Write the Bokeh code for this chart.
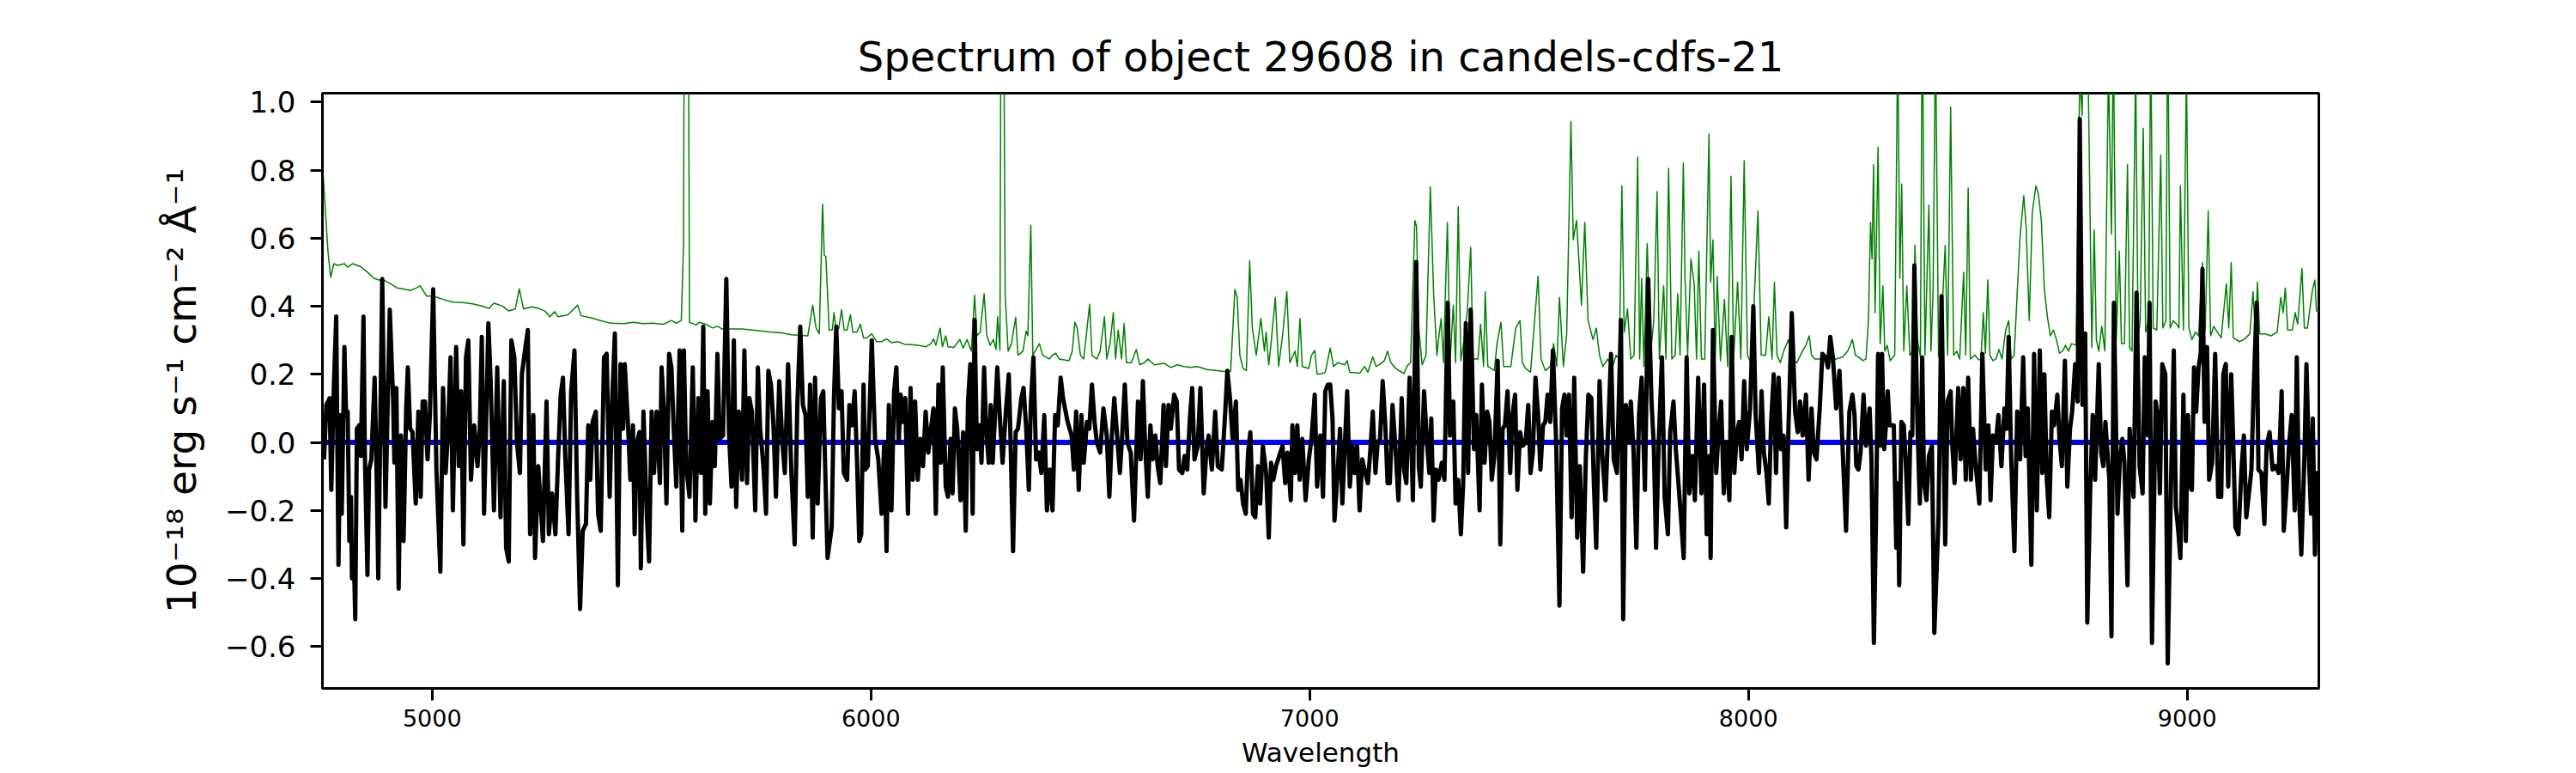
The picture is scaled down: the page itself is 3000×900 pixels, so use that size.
from bokeh.plotting import figure
from bokeh.models import Range1d, FixedTicker, Span
from bokeh.embed import file_html
from bokeh.resources import INLINE

title_text = "Spectrum of object 29608 in candels-cdfs-21"
x_label = "Wavelength"
y_label = "10⁻¹⁸ erg s⁻¹ cm⁻² Å⁻¹"
x_ticks = [5000, 6000, 7000, 8000, 9000]
x_tick_labels = ["5000", "6000", "7000", "8000", "9000"]
y_ticks = [-0.6, -0.4, -0.2, 0.0, 0.2, 0.4, 0.6, 0.8, 1.0]
y_tick_labels = ["−0.6", "−0.4", "−0.2", "0.0", "0.2", "0.4", "0.6", "0.8", "1.0"]
x_limits = (4750, 9300)
y_limits = (-0.723, 1.026)
zero_level = 0.0

# ---- object spectrum (black), in four wavelength segments ----
wl_spec_1 = [
    4753.7, 4759.0, 4766.4, 4770.2, 4776.2, 4781.4, 4786.6, 4791.1, 4794.1, 4800.1,
    4803.9, 4807.6, 4811.4, 4815.1, 4817.3, 4821.1, 4824.8, 4828.6, 4833.8, 4837.6,
    4843.6, 4846.6, 4852.6, 4856.3, 4861.5, 4869.0, 4873.5, 4877.3, 4886.3, 4893.7,
    4903.5, 4911.0, 4914.0, 4918.5, 4923.7, 4929.0, 4935.0, 4940.9, 4944.7, 4949.9,
    4955.2, 4962.7, 4968.6, 4973.9, 4978.4, 4983.6, 4989.6, 4994.9, 5002.4, 5009.8,
    5018.8, 5024.8, 5030.8, 5036.1, 5042.0, 5047.3, 5054.8, 5060.8, 5066.0, 5071.3,
    5077.2, 5082.5, 5088.5, 5096.0, 5103.5, 5108.7, 5113.2, 5118.4, 5128.2, 5133.4,
    5140.9, 5148.4, 5155.9, 5163.4, 5168.6, 5174.6, 5180.6, 5187.4, 5193.3, 5200.1,
    5204.6, 5210.6, 5218.1, 5223.3, 5230.8, 5234.5, 5242.0, 5252.5, 5260.8, 5266.0,
    5273.5, 5281.0, 5287.0, 5293.0, 5298.2, 5303.4, 5311.0, 5316.9, 5324.4, 5330.4,
    5337.2, 5343.2, 5350.6, 5355.9, 5360.4, 5365.6, 5373.1, 5378.3, 5384.3, 5391.8,
    5397.8, 5404.6, 5410.6, 5416.5, 5423.3, 5429.3, 5435.3, 5439.0, 5446.5, 5451.8,
    5457.7, 5461.5, 5466.7, 5472.7, 5475.7, 5481.7, 5489.2, 5494.4, 5500.4, 5505.7,
    5511.7, 5519.2, 5522.9, 5528.1, 5534.1, 5540.1, 5545.4, 5550.6, 5556.6, 5564.1,
    5570.1, 5573.8, 5579.1, 5586.6, 5594.1, 5600.1, 5606.8, 5612.8, 5618.0, 5622.5,
    5627.8, 5633.0, 5639.0, 5644.3, 5650.2, 5655.5, 5663.0, 5670.5, 5676.5, 5682.4,
    5687.7, 5692.9, 5698.9, 5706.4, 5711.7, 5717.7, 5722.9, 5728.9, 5736.4, 5742.4,
    5747.6, 5755.1, 5761.1, 5766.3, 5772.3, 5777.6, 5783.6, 5791.1, 5797.8, 5803.8,
    5811.3, 5818.8, 5826.3, 5832.3, 5839.0, 5845.0, 5851.0, 5856.2, 5861.4, 5867.4,
    5872.7, 5878.7, 5886.2, 5891.4, 5901.2,
]
flux_spec_1 = [
    -0.05, 0.11, 0.13, -0.14, 0.17, 0.37, -0.36, 0.08, -0.21, 0.28,
    0.08, 0.09, -0.29, -0.16, -0.40, -0.30, -0.52, 0.04, 0.05, -0.04,
    0.37, -0.03, -0.39, -0.08, -0.05, 0.19, -0.09, -0.40, 0.48, -0.19,
    0.39, 0.13, -0.06, 0.16, -0.43, 0.02, -0.29, 0.10, 0.22, 0.04,
    0.03, -0.18, 0.09, -0.16, 0.12, 0.12, -0.05, 0.08, 0.45, -0.08,
    -0.38, 0.16, -0.09, 0.03, 0.25, -0.20, 0.28, -0.07, 0.15, -0.30,
    0.25, 0.30, -0.11, 0.05, -0.07, 0.04, 0.31, -0.21, 0.35, 0.18,
    -0.20, 0.22, -0.22, 0.18, -0.31, -0.35, 0.30, 0.25, 0.00, -0.09,
    0.20, 0.26, 0.33, -0.27, 0.08, -0.34, -0.07, -0.29, 0.12, -0.27,
    -0.15, -0.27, -0.05, 0.14, 0.19, -0.04, -0.27, 0.15, 0.27, -0.15,
    -0.49, -0.26, -0.24, 0.05, -0.11, 0.06, 0.09, -0.21, -0.26, 0.25,
    0.26, -0.16, 0.13, 0.32, -0.42, 0.23, 0.04, 0.23, 0.05, -0.11,
    0.05, -0.27, 0.00, 0.03, -0.37, 0.09, -0.21, -0.35, 0.09, -0.09,
    0.09, -0.12, 0.22, 0.10, -0.18, 0.26, 0.22, 0.04, -0.13, 0.27,
    -0.26, 0.27, -0.07, -0.16, 0.22, -0.23, 0.13, -0.09, 0.34, -0.21,
    0.15, -0.18, 0.06, -0.07, 0.26, 0.01, 0.02, 0.48, 0.03, -0.13,
    0.30, -0.19, 0.09, -0.11, 0.27, -0.12, 0.13, 0.09, -0.20, 0.22,
    0.04, -0.07, -0.21, 0.21, 0.17, 0.06, -0.16, 0.18, 0.01, -0.09,
    0.23, -0.09, -0.30, 0.11, 0.34, 0.11, 0.08, -0.16, 0.17, -0.28,
    0.19, -0.18, 0.13, 0.15, -0.34,
]
wl_spec_2 = [
    5910.6, 5915.8, 5921.1, 5927.1, 5933.1, 5938.3, 5945.8, 5951.0, 5957.0, 5963.0,
    5968.3, 5973.5, 5978.0, 5983.2, 5987.0, 5993.0, 6002.0, 6009.5, 6016.9, 6024.4,
    6030.4, 6035.7, 6040.9, 6046.9, 6052.9, 6058.1, 6063.4, 6067.9, 6073.1, 6078.4,
    6084.4, 6090.4, 6095.6, 6100.8, 6106.8, 6112.8, 6118.8, 6124.8, 6130.8, 6136.8,
    6142.8, 6148.0, 6154.0, 6159.3, 6163.8, 6170.5, 6175.7, 6181.7, 6186.2, 6191.5,
    6196.7, 6204.2, 6210.2, 6216.2, 6221.4, 6226.7, 6231.9, 6236.4, 6241.7, 6247.6,
    6252.1, 6258.1, 6262.6, 6268.6, 6273.1, 6277.6, 6282.9, 6288.1, 6294.1, 6300.1,
    6307.6, 6314.3, 6318.0, 6324.0, 6330.0, 6335.3, 6342.8, 6348.0, 6354.0, 6360.0,
    6364.5, 6370.5, 6376.5, 6382.5, 6388.5, 6395.2, 6401.2, 6407.9, 6413.9, 6419.9,
    6425.9, 6432.6, 6437.9, 6442.4, 6448.4, 6457.4, 6462.6, 6467.8, 6473.8, 6479.8,
    6485.1, 6492.6, 6497.8, 6503.8, 6509.8, 6515.0, 6522.5, 6530.0, 6537.5, 6543.5,
    6548.7, 6554.7, 6560.0, 6567.5, 6572.7, 6578.7, 6584.7, 6592.2, 6599.7, 6608.7,
    6614.7, 6619.9, 6625.1, 6631.1, 6637.1, 6642.4, 6648.4, 6653.6, 6659.6, 6667.1,
    6672.4, 6678.3, 6683.6, 6691.1, 6697.1, 6702.3, 6709.8, 6715.0, 6721.0, 6727.0,
    6732.3, 6737.5, 6745.0, 6751.0, 6758.5, 6764.5, 6769.7, 6777.2, 6784.7, 6790.7,
    6799.7, 6807.2, 6812.4, 6818.4, 6824.4, 6831.9, 6837.1, 6842.4, 6848.3, 6854.3,
    6859.6, 6864.8, 6870.8, 6876.1, 6882.0, 6887.3, 6893.3, 6900.8, 6906.8, 6912.0,
    6917.2, 6923.2, 6930.7, 6938.2, 6944.2, 6949.5, 6957.0, 6960.7, 6966.7, 6971.9,
    6977.2, 6983.2, 6990.7, 6998.1, 7004.1, 7011.6, 7016.9, 7024.4, 7030.4, 7035.6,
    7041.6, 7046.8, 7052.1, 7056.6, 7064.1, 7069.3, 7074.5,
]
flux_spec_2 = [
    -0.25, 0.13, 0.34, 0.10, 0.15, -0.09, -0.11, 0.11, 0.05, 0.15,
    -0.05, -0.29, -0.27, 0.17, -0.08, -0.07, 0.30, 0.01, -0.05, -0.21,
    0.00, -0.32, 0.11, -0.20, 0.15, 0.22, 0.00, 0.14, 0.06, 0.13,
    -0.21, 0.16, -0.11, 0.12, -0.11, 0.01, -0.07, 0.09, -0.03, 0.04,
    0.10, -0.21, 0.17, -0.06, 0.22, -0.13, -0.16, 0.01, -0.15, 0.10,
    0.04, -0.17, 0.03, -0.26, 0.12, 0.23, -0.21, 0.36, -0.02, 0.05,
    -0.06, 0.22, 0.04, -0.06, 0.11, -0.06, 0.08, 0.22, 0.07, -0.06,
    0.09, 0.20, 0.02, -0.32, 0.03, 0.04, 0.13, 0.16, 0.04, -0.14,
    0.11, 0.25, -0.05, -0.03, -0.09, 0.08, -0.20, -0.08, -0.20, 0.08,
    0.05, 0.19, 0.13, 0.10, 0.06, 0.02, -0.08, 0.09, -0.14, 0.08,
    -0.06, 0.06, 0.04, 0.17, 0.06, 0.00, -0.03, 0.10, 0.02, -0.16,
    0.01, 0.13, 0.04, -0.09, 0.02, 0.17, 0.00, -0.03, -0.23, 0.12,
    -0.05, 0.18, -0.01, -0.16, 0.05, -0.05, 0.02, -0.07, -0.12, 0.11,
    -0.07, 0.11, 0.04, 0.14, 0.12, -0.08, -0.09, -0.04, -0.08, 0.07,
    0.16, -0.05, -0.01, 0.16, -0.15, -0.03, 0.02, -0.08, 0.09, -0.07,
    -0.08, 0.08, 0.21, 0.13, 0.01, 0.12, -0.14, -0.11, -0.18, -0.21,
    -0.03, 0.03, -0.21, -0.22, -0.07, -0.18, -0.01, -0.09, -0.28, -0.06,
    -0.11, -0.07, -0.04, -0.01, -0.12, -0.03, -0.17, 0.05, -0.09, 0.05,
    -0.11, 0.01, -0.17, -0.05, 0.01, 0.14, -0.13, 0.02, -0.16, 0.15,
    0.17, 0.17, 0.07, -0.23, -0.08, 0.04, -0.18,
]
wl_spec_3 = [
    7080.2, 7085.5, 7091.5, 7097.5, 7102.7, 7108.0, 7113.9, 7119.9, 7125.2, 7132.7,
    7137.9, 7143.9, 7149.9, 7155.1, 7160.4, 7166.4, 7172.4, 7177.6, 7182.8, 7188.8,
    7194.8, 7202.3, 7209.8, 7215.1, 7220.3, 7227.8, 7235.3, 7242.8, 7248.8, 7253.3,
    7260.7, 7267.5, 7272.7, 7277.2, 7282.5, 7287.7, 7293.7, 7301.2, 7307.2, 7314.7,
    7319.9, 7327.4, 7332.6, 7338.6, 7344.6, 7349.9, 7355.9, 7361.1, 7367.1, 7374.6,
    7379.8, 7387.3, 7392.6, 7398.6, 7404.6, 7409.8, 7415.0, 7421.0, 7428.5, 7434.5,
    7439.8, 7445.0, 7451.0, 7457.0, 7462.2, 7468.2, 7473.5, 7479.5, 7485.4, 7492.2,
    7498.2, 7503.4, 7508.7, 7514.7, 7520.6, 7525.9, 7531.9, 7537.1, 7542.4, 7548.4,
    7554.4, 7561.8, 7569.3, 7575.3, 7580.6, 7585.8, 7591.1, 7597.0, 7603.0, 7609.8,
    7615.8, 7623.3, 7629.3, 7635.2, 7642.0, 7648.0, 7653.2, 7660.7, 7666.7, 7674.2,
    7679.4, 7686.9, 7692.9, 7700.4, 7709.4, 7714.6, 7720.6, 7726.6, 7731.9, 7737.9,
    7744.6, 7750.6, 7756.6, 7764.1, 7771.6, 7779.1, 7784.3, 7789.5, 7795.5, 7803.0,
    7809.0, 7816.5, 7821.7, 7829.2, 7834.5, 7840.5, 7845.7, 7852.5, 7859.2, 7865.2,
    7872.7, 7877.9, 7885.4, 7892.9, 7898.9, 7904.9, 7910.9, 7913.9, 7919.1, 7926.6,
    7931.8, 7937.8, 7943.8, 7949.1, 7956.6, 7961.8, 7967.8, 7973.8, 7979.0, 7984.3,
    7990.3, 7996.3, 8003.8, 8011.2, 8016.5, 8024.0, 8030.0, 8035.2, 8041.2, 8046.4,
    8051.7, 8057.7, 8062.9, 8068.9, 8074.2, 8080.2, 8086.1, 8091.4, 8098.9, 8106.4,
    8112.4, 8117.6, 8123.6, 8131.1, 8137.1, 8143.8, 8149.1, 8155.1, 8162.5, 8168.5,
    8176.0, 8181.3, 8186.5, 8192.5, 8200.0, 8207.5, 8215.0, 8222.5, 8230.0,
]
flux_spec_3 = [
    -0.01, 0.15, -0.13, -0.01, -0.09, -0.01, -0.20, -0.05, -0.08, -0.12,
    -0.03, 0.09, -0.09, 0.00, 0.01, 0.18, 0.05, -0.12, -0.12, 0.11,
    0.00, -0.17, 0.13, -0.08, -0.12, 0.19, -0.17, 0.53, -0.07, -0.13,
    0.15, 0.00, -0.09, 0.07, -0.23, -0.08, -0.11, -0.06, -0.11, 0.41,
    0.02, 0.12, -0.18, -0.11, -0.27, -0.12, 0.35, -0.09, 0.39, -0.02,
    0.08, -0.20, 0.17, -0.06, 0.09, 0.06, -0.11, -0.04, 0.24, -0.30,
    0.04, 0.05, 0.15, -0.09, 0.08, 0.14, -0.14, 0.03, -0.01, 0.00,
    0.11, -0.09, -0.03, 0.19, 0.08, -0.08, 0.05, 0.06, 0.14, 0.06,
    0.27, 0.00, -0.48, 0.10, 0.14, 0.02, 0.14, -0.22, 0.19, -0.28,
    -0.07, -0.38, -0.05, 0.14, 0.13, -0.13, -0.31, 0.18, -0.03, -0.17,
    0.01, 0.26, -0.05, -0.09, 0.36, -0.52, 0.11, 0.00, 0.12, -0.02,
    -0.31, 0.08, 0.19, -0.14, 0.48, 0.12, -0.01, -0.31, 0.00, 0.25,
    -0.16, -0.27, 0.03, 0.12, -0.02, -0.12, -0.21, -0.34, 0.25, -0.15,
    -0.04, -0.17, 0.19, -0.15, 0.17, -0.27, -0.04, -0.34, 0.33, -0.09,
    0.03, 0.12, -0.15, 0.00, -0.17, 0.31, -0.09, 0.03, 0.06, -0.05,
    0.18, -0.02, 0.10, 0.40, 0.08, -0.09, 0.15, -0.03, -0.09, -0.18,
    0.06, 0.20, -0.09, 0.19, -0.02, 0.02, -0.25, 0.05, 0.38, 0.09,
    0.03, 0.12, 0.02, 0.14, -0.11, 0.10, -0.03, -0.05, 0.10, 0.26,
    0.25, 0.22, 0.31, 0.25, 0.10, 0.21, -0.03, -0.26, 0.09,
]
wl_spec_4 = [
    8237.0, 8241.8, 8245.9, 8250.7, 8255.5, 8262.4, 8268.0, 8271.4, 8276.2, 8280.4,
    8285.9, 8290.7, 8295.5, 8300.3, 8304.5, 8309.3, 8314.1, 8317.6, 8321.7, 8326.5,
    8331.3, 8336.9, 8340.3, 8343.7, 8348.6, 8354.1, 8358.9, 8364.4, 8369.2, 8373.4,
    8378.2, 8385.1, 8390.6, 8396.1, 8400.2, 8405.8, 8411.3, 8418.2, 8423.7, 8433.3,
    8440.2, 8448.5, 8454.0, 8460.9, 8464.3, 8469.8, 8478.1, 8483.6, 8489.8, 8495.3,
    8500.8, 8507.0, 8511.9, 8517.4, 8526.3, 8533.2, 8540.8, 8547.0, 8551.8, 8557.3,
    8564.2, 8569.7, 8576.6, 8583.5, 8588.3, 8593.2, 8598.7, 8606.2, 8612.5, 8619.3,
    8626.2, 8631.7, 8636.6, 8644.8, 8651.0, 8657.2, 8664.1, 8669.6, 8674.5, 8680.0,
    8685.5, 8691.7, 8696.5, 8704.1, 8708.9, 8714.4, 8721.3, 8726.8, 8733.0, 8737.8,
    8744.7, 8750.3, 8755.1, 8761.3, 8767.5, 8772.3, 8779.2, 8784.7, 8790.2, 8798.5,
    8804.0, 8808.8, 8813.6, 8822.6, 8827.4, 8832.9, 8841.2, 8846.7, 8852.2, 8857.0,
    8863.9, 8868.8, 8877.7, 8884.6, 8891.5, 8898.4, 8903.2, 8910.1, 8914.2, 8919.7,
    8928.0, 8932.8, 8937.7, 8943.2, 8950.1, 8955.6, 8962.5, 8969.4, 8974.2, 8979.0,
    8984.5, 8991.4, 8996.9, 9001.7, 9006.6, 9010.7, 9015.5, 9020.4, 9025.9, 9030.7,
    9034.8, 9039.6, 9045.2, 9050.0, 9056.9, 9063.7, 9070.6, 9077.5, 9082.3, 9087.9,
    9093.4, 9100.3, 9105.1, 9109.9, 9116.8, 9123.7, 9129.2, 9134.7, 9141.6, 9146.4,
    9151.2, 9158.1, 9162.3, 9169.2, 9176.0, 9180.9, 9187.8, 9194.7, 9201.5, 9208.4,
    9215.3, 9220.1, 9225.7, 9232.6, 9238.1, 9245.0, 9249.8, 9254.6, 9260.1, 9267.0,
    9271.8, 9277.3, 9282.2, 9286.3, 9291.1, 9295.9, 9300.0,
]
flux_spec_4 = [
    0.14, 0.08, -0.07, -0.08, -0.03, 0.14, -0.01, 0.04, 0.10, -0.05,
    -0.59, -0.23, 0.26, -0.01, 0.26, -0.02, 0.06, 0.15, 0.05, 0.05,
    0.05, -0.31, -0.12, -0.42, 0.06, 0.05, -0.07, -0.24, 0.03, 0.02,
    0.52, 0.06, -0.18, 0.25, -0.12, -0.17, -0.04, -0.01, -0.56, -0.22,
    0.43, -0.30, 0.12, 0.15, 0.00, -0.12, 0.16, -0.05, 0.16, -0.11,
    0.19, -0.11, 0.04, -0.06, -0.18, 0.26, -0.08, 0.05, -0.17, 0.02,
    0.00, 0.08, -0.07, 0.10, 0.04, 0.31, -0.04, -0.32, 0.09, -0.05,
    0.25, -0.04, 0.10, -0.36, 0.26, -0.20, 0.27, -0.09, 0.20, -0.11,
    -0.22, 0.09, 0.05, 0.14, 0.01, -0.07, 0.24, -0.13, 0.04, 0.09,
    0.23, 0.12, 0.95, 0.11, 0.32, -0.53, -0.13, 0.08, -0.11, 0.23,
    -0.03, -0.07, 0.06, -0.11, -0.57, 0.41, -0.21, -0.05, 0.01, -0.06,
    -0.42, 0.04, -0.16, 0.44, -0.07, -0.15, 0.25, 0.02, 0.41, -0.59,
    0.12, 0.08, -0.15, 0.23, 0.20, -0.65, -0.16, 0.27, -0.19, -0.25,
    -0.34, 0.14, -0.29, 0.08, -0.13, -0.14, 0.22, 0.09, 0.22, 0.26,
    0.51, 0.06, 0.28, -0.11, -0.06, 0.26, -0.16, -0.16, 0.20, 0.23,
    -0.13, 0.20, -0.01, -0.25, -0.27, -0.08, 0.02, -0.22, -0.14, -0.08,
    0.14, 0.41, -0.08, -0.09, -0.24, -0.01, 0.03, -0.08, -0.07, -0.09,
    0.15, -0.26, -0.15, 0.00, 0.08, -0.20, 0.25, -0.15, -0.33, -0.05,
    0.23, -0.04, -0.21, 0.07, -0.33, -0.09, -0.10,
]

# ---- noise / sky spectrum (green), four segments ----
wl_sky_1 = [
    4751.0, 4762.7, 4768.7, 4776.2, 4785.1, 4800.1, 4807.6, 4818.8, 4837.6, 4852.6,
    4867.5, 4878.8, 4890.0, 4905.0, 4920.0, 4931.2, 4949.9, 4964.9, 4972.4, 4987.4,
    5002.4, 5024.8, 5047.3, 5069.8, 5092.2, 5114.7, 5129.7, 5140.9, 5159.6, 5174.6,
    5189.6, 5198.6, 5208.3, 5227.1, 5242.0, 5257.0, 5268.2, 5279.5, 5287.0, 5309.4,
    5331.9, 5339.4, 5361.9, 5384.3, 5406.8, 5436.8, 5459.2, 5481.7, 5504.2, 5526.7,
    5545.4, 5556.6, 5567.8, 5573.1, 5576.8, 5582.1, 5586.6, 5601.6, 5609.1, 5624.0,
    5639.0, 5650.2, 5661.5, 5683.9, 5706.4, 5728.9, 5751.4, 5773.8, 5796.3, 5818.8,
    5833.8, 5856.2, 5867.4, 5875.0, 5882.4, 5889.9, 5893.7, 5897.4, 5904.9,
]
flux_sky_1 = [
    0.800, 0.560, 0.485, 0.525, 0.520, 0.525, 0.515, 0.525, 0.516, 0.500,
    0.482, 0.477, 0.477, 0.466, 0.454, 0.452, 0.446, 0.454, 0.460, 0.430,
    0.430, 0.420, 0.412, 0.411, 0.407, 0.400, 0.394, 0.409, 0.401, 0.386,
    0.392, 0.451, 0.392, 0.398, 0.394, 0.386, 0.369, 0.384, 0.369, 0.375,
    0.403, 0.372, 0.366, 0.358, 0.350, 0.349, 0.353, 0.349, 0.350, 0.347,
    0.358, 0.350, 0.358, 0.580, 2.500, 2.000, 0.353, 0.345, 0.353, 0.347,
    0.336, 0.341, 0.333, 0.333, 0.333, 0.330, 0.327, 0.324, 0.322, 0.316,
    0.315, 0.313, 0.403, 0.336, 0.319, 0.700, 0.550, 0.545, 0.330,
]
wl_sky_2 = [
    5912.1, 5915.8, 5921.1, 5927.1, 5933.1, 5939.1, 5945.8, 5953.3, 5958.5, 5968.3,
    5975.8, 5983.2, 5990.7, 6002.0, 6013.2, 6024.4, 6035.7, 6046.9, 6061.9, 6076.9,
    6091.9, 6106.8, 6125.6, 6136.8, 6142.8, 6148.0, 6157.8, 6163.0, 6170.5, 6175.7,
    6189.2, 6202.7, 6210.2, 6219.2, 6228.9, 6236.4, 6241.7, 6249.1, 6258.1, 6264.1,
    6271.6, 6279.1, 6285.1, 6288.8, 6294.1, 6298.6, 6302.3, 6306.1, 6312.8, 6320.3,
    6330.0, 6335.3, 6346.5, 6354.0, 6357.7, 6364.5, 6369.0, 6384.0, 6391.5, 6406.4,
    6413.9, 6421.4, 6428.9, 6451.4, 6458.9, 6464.9, 6470.1, 6477.6, 6485.1, 6498.6,
    6503.8, 6515.0, 6522.5, 6532.3, 6537.5, 6545.0, 6552.5, 6557.7, 6563.7, 6571.2,
    6577.2, 6582.4, 6593.7, 6604.9, 6612.4, 6623.6, 6631.1, 6646.1, 6668.6, 6683.6,
    6698.5, 6713.5, 6728.5, 6743.5, 6766.0, 6788.4, 6803.4, 6819.9, 6829.6, 6834.9,
    6840.9, 6848.3, 6855.8, 6863.3, 6869.3, 6878.3, 6888.8, 6897.0, 6900.8, 6906.8,
    6912.0, 6921.7, 6929.2, 6938.2, 6948.0, 6954.7, 6966.7, 6971.9, 6977.9, 6983.2,
    6998.1, 7004.1, 7011.6, 7016.9, 7028.1, 7035.6, 7046.8, 7054.3, 7064.1,
]
flux_sky_2 = [
    0.330, 0.381, 0.330, 0.336, 0.390, 0.330, 0.330, 0.375, 0.324, 0.324,
    0.347, 0.307, 0.307, 0.319, 0.296, 0.296, 0.304, 0.293, 0.296, 0.288,
    0.287, 0.285, 0.281, 0.290, 0.304, 0.285, 0.336, 0.281, 0.313, 0.281,
    0.279, 0.302, 0.277, 0.302, 0.268, 0.432, 0.313, 0.324, 0.437, 0.315,
    0.285, 0.302, 0.273, 0.369, 0.270, 2.200, 1.400, 0.432, 0.268, 0.290,
    0.367, 0.256, 0.268, 0.327, 0.313, 0.638, 0.256, 0.290, 0.256, 0.245,
    0.256, 0.262, 0.245, 0.240, 0.268, 0.353, 0.336, 0.256, 0.245, 0.406,
    0.256, 0.245, 0.268, 0.369, 0.245, 0.290, 0.381, 0.245, 0.330, 0.245,
    0.349, 0.234, 0.234, 0.273, 0.228, 0.234, 0.245, 0.228, 0.232, 0.220,
    0.228, 0.223, 0.220, 0.223, 0.214, 0.211, 0.208, 0.208, 0.449, 0.426,
    0.256, 0.217, 0.211, 0.533, 0.336, 0.256, 0.364, 0.268, 0.324, 0.228,
    0.290, 0.426, 0.223, 0.313, 0.443, 0.234, 0.268, 0.223, 0.364, 0.223,
    0.217, 0.256, 0.270, 0.200, 0.202, 0.206, 0.277, 0.223, 0.234,
]
wl_sky_3 = [
    7080.2, 7085.5, 7091.5, 7113.9, 7125.2, 7132.7, 7143.9, 7151.4, 7158.9, 7170.1,
    7177.6, 7185.1, 7196.3, 7215.1, 7222.5, 7230.0, 7239.8, 7243.5, 7248.8, 7256.3,
    7265.2, 7275.0, 7282.5, 7290.0, 7293.7, 7299.7, 7304.9, 7313.9, 7319.9, 7327.4,
    7332.6, 7338.6, 7344.6, 7352.1, 7359.6, 7367.1, 7372.3, 7383.6, 7389.6, 7396.3,
    7400.1, 7406.0, 7421.0, 7427.0, 7436.0, 7442.0, 7458.5, 7469.7, 7479.5, 7484.7,
    7492.2, 7503.4, 7520.6, 7527.4, 7537.1, 7548.4, 7555.9, 7563.3, 7569.3, 7578.3,
    7585.8, 7595.5, 7600.8, 7608.3, 7619.5, 7627.0, 7634.5, 7645.7, 7653.2, 7660.7,
    7668.2, 7679.4, 7690.7, 7698.2, 7705.7, 7711.6, 7716.9, 7724.4, 7731.9, 7739.4,
    7747.6, 7752.1, 7756.6, 7761.8, 7769.3, 7776.8, 7784.3, 7791.8, 7797.0, 7806.8,
    7812.0, 7818.0, 7825.5, 7833.0, 7839.0, 7844.2, 7851.7, 7855.5, 7861.4, 7868.9,
    7876.4, 7881.7, 7886.9, 7892.9, 7900.4, 7910.1, 7913.9, 7919.1, 7924.4, 7928.9,
    7936.3, 7945.3, 7952.8, 7960.3, 7966.3, 7975.3, 7982.8, 7990.3, 7997.8, 8005.3,
    8011.2, 8021.7, 8029.2, 8039.0, 8046.4, 8053.9, 8059.2, 8065.2, 8072.7, 8080.2,
    8091.4, 8098.9, 8110.1, 8125.1, 8131.1, 8138.6, 8143.8, 8151.3, 8162.5, 8173.8,
    8185.0, 8200.0, 8215.0, 8226.2,
]
flux_sky_3 = [
    0.228, 0.240, 0.206, 0.203, 0.223, 0.206, 0.251, 0.223, 0.228, 0.240,
    0.268, 0.234, 0.217, 0.202, 0.225, 0.234, 0.652, 0.635, 0.336, 0.228,
    0.256, 0.751, 0.437, 0.256, 0.302, 0.364, 0.234, 0.646, 0.234, 0.403,
    0.234, 0.692, 0.240, 0.302, 0.392, 0.573, 0.245, 0.245, 0.347, 0.223,
    0.443, 0.223, 0.211, 0.290, 0.353, 0.223, 0.223, 0.336, 0.358, 0.234,
    0.217, 0.206, 0.488, 0.245, 0.211, 0.223, 0.290, 0.223, 0.426, 0.223,
    0.319, 0.943, 0.595, 0.652, 0.403, 0.646, 0.358, 0.302, 0.336, 0.256,
    0.223, 0.245, 0.223, 0.256, 0.245, 0.754, 0.324, 0.392, 0.245, 0.256,
    0.838, 0.245, 0.482, 0.223, 0.584, 0.256, 0.358, 0.737, 0.245, 0.460,
    0.245, 0.805, 0.245, 0.256, 0.437, 0.256, 0.821, 0.482, 0.256, 0.539,
    0.466, 0.245, 0.562, 0.245, 0.245, 0.906, 0.471, 0.595, 0.245, 0.488,
    0.240, 0.420, 0.223, 0.782, 0.245, 0.471, 0.245, 0.827, 0.256, 0.234,
    0.358, 0.680, 0.256, 0.256, 0.369, 0.245, 0.471, 0.256, 0.234, 0.268,
    0.302, 0.245, 0.234, 0.273, 0.285, 0.313, 0.256, 0.245, 0.245, 0.251,
    0.234, 0.245, 0.251, 0.268,
]
wl_sky_4 = [
    8237.0, 8243.8, 8250.7, 8261.0, 8268.0, 8273.5, 8278.3, 8281.7, 8285.2, 8288.6,
    8295.5, 8300.3, 8306.5, 8310.7, 8316.2, 8323.1, 8333.4, 8340.3, 8345.1, 8349.3,
    8354.1, 8361.0, 8367.9, 8374.7, 8379.6, 8385.1, 8392.0, 8396.1, 8402.3, 8411.3,
    8416.1, 8420.9, 8426.4, 8433.3, 8440.2, 8448.5, 8454.0, 8460.9, 8467.8, 8474.7,
    8481.5, 8490.5, 8495.3, 8500.8, 8505.7, 8516.0, 8522.9, 8529.8, 8535.3, 8540.1,
    8545.6, 8550.4, 8557.3, 8564.2, 8571.1, 8578.0, 8586.3, 8593.2, 8598.7, 8605.6,
    8612.5, 8619.3, 8627.6, 8633.1, 8640.0, 8646.9, 8655.2, 8660.7, 8667.6, 8674.5,
    8681.4, 8688.2, 8695.1, 8702.0, 8708.9, 8715.8, 8722.7, 8729.6, 8736.5, 8746.8,
    8755.1, 8760.6, 8765.4, 8770.9, 8777.8, 8782.6, 8788.1, 8793.0, 8798.5, 8805.4,
    8812.3, 8820.5, 8827.4, 8831.6, 8838.4, 8845.3, 8850.2, 8857.0, 8863.9, 8868.8,
    8874.3, 8882.5, 8888.1, 8892.9, 8899.8, 8905.3, 8912.2, 8917.0, 8922.5, 8930.8,
    8939.7, 8944.5, 8951.4, 8955.6, 8961.1, 8968.0, 8976.2, 8981.1, 8984.5, 8991.4,
    8998.3, 9003.8, 9010.7, 9019.0, 9025.9, 9034.8, 9041.0, 9047.9, 9053.4, 9060.3,
    9068.6, 9077.5, 9089.2, 9094.8, 9100.3, 9105.1, 9118.9, 9129.2, 9143.0, 9149.9,
    9155.4, 9160.2, 9165.1, 9177.4, 9191.2, 9205.0, 9213.3, 9218.8, 9223.6, 9229.1,
    9239.4, 9246.3, 9251.8, 9261.5, 9267.0, 9273.9, 9280.8, 9285.6, 9291.1, 9294.5,
    9300.0,
]
flux_sky_4 = [
    0.302, 0.256, 0.251, 0.240, 0.245, 0.358, 0.646, 0.539, 0.816, 0.381,
    0.867, 0.290, 0.460, 0.268, 0.285, 0.240, 0.256, 1.200, 0.482, 0.759,
    0.268, 0.460, 0.256, 0.268, 0.579, 0.302, 0.251, 1.300, 0.256, 0.697,
    0.268, 0.449, 1.200, 0.251, 0.358, 0.579, 0.256, 0.985, 0.256, 0.268,
    0.245, 0.500, 0.256, 0.748, 0.245, 0.256, 0.245, 0.240, 0.381, 0.262,
    0.477, 0.256, 0.240, 0.245, 0.273, 0.245, 0.330, 0.358, 0.245, 0.256,
    0.437, 0.607, 0.725, 0.629, 0.358, 0.675, 0.754, 0.731, 0.652, 0.449,
    0.369, 0.313, 0.330, 0.302, 0.262, 0.268, 0.285, 0.268, 0.290, 0.285,
    1.080, 0.960, 1.500, 1.400, 0.754, 0.279, 0.624, 0.302, 0.268, 0.341,
    0.268, 1.100, 0.612, 1.200, 0.302, 0.562, 0.290, 0.290, 0.816, 0.279,
    0.268, 1.100, 0.307, 0.358, 0.923, 0.324, 0.358, 1.200, 0.336, 0.330,
    0.844, 0.336, 0.358, 1.300, 0.336, 0.358, 0.347, 0.336, 0.754, 0.330,
    1.100, 0.336, 0.302, 0.324, 0.313, 0.528, 0.330, 0.680, 0.313, 0.341,
    0.324, 0.307, 0.466, 0.336, 0.528, 0.307, 0.296, 0.302, 0.319, 0.443,
    0.319, 0.471, 0.319, 0.319, 0.313, 0.324, 0.426, 0.381, 0.454, 0.330,
    0.330, 0.381, 0.347, 0.511, 0.336, 0.336, 0.403, 0.449, 0.477, 0.386,
    0.386,
]

wl_spec = wl_spec_1 + wl_spec_2 + wl_spec_3 + wl_spec_4
flux_spec = flux_spec_1 + flux_spec_2 + flux_spec_3 + flux_spec_4
wl_sky = wl_sky_1 + wl_sky_2 + wl_sky_3 + wl_sky_4
flux_sky = flux_sky_1 + flux_sky_2 + flux_sky_3 + flux_sky_4

FONT = "DejaVu Sans"

p = figure(
    frame_width=2325, frame_height=693,
    min_border_left=375, min_border_right=300,
    min_border_top=108, min_border_bottom=99,
    x_range=Range1d(*x_limits), y_range=Range1d(*y_limits),
    output_backend="svg", toolbar_location=None,
    title=title_text,
)
p.background_fill_color = "white"
p.border_fill_color = "white"
p.outline_line_color = "black"
p.outline_line_width = 3
p.xgrid.visible = False
p.ygrid.visible = False

p.title.align = "center"
p.title.text_font = FONT
p.title.text_font_size = "48px"
p.title.text_font_style = "normal"
p.title.text_color = "black"
p.title.standoff = 30

for ax in (p.xaxis[0], p.yaxis[0]):
    ax.axis_line_width = 3
    ax.axis_line_color = "black"
    ax.major_tick_line_width = 3
    ax.major_tick_line_color = "black"
    ax.major_tick_in = 0
    ax.major_tick_out = 14
    ax.minor_tick_line_color = None
    ax.major_label_text_font = FONT
    ax.major_label_text_color = "black"
    ax.axis_label_text_font = FONT
    ax.axis_label_text_font_style = "normal"
    ax.axis_label_text_color = "black"

p.xaxis.ticker = FixedTicker(ticks=x_ticks)
p.xaxis.major_label_overrides = {t: s for t, s in zip(x_ticks, x_tick_labels)}
p.xaxis.major_label_text_font_size = "27px"
p.xaxis.major_label_standoff = 10
p.xaxis.axis_label = x_label
p.xaxis.axis_label_text_font_size = "31px"
p.xaxis.axis_label_standoff = 9

p.yaxis.ticker = FixedTicker(ticks=y_ticks)
p.yaxis.major_label_overrides = {t: s for t, s in zip(y_ticks, y_tick_labels)}
p.yaxis.major_label_text_font_size = "34px"
p.yaxis.major_label_standoff = 17
p.yaxis.axis_label = y_label
p.yaxis.axis_label_text_font_size = "47px"
p.yaxis.axis_label_standoff = 20

zero_line = Span(location=zero_level, dimension="width", line_color="#0000ff",
                 line_width=6, level="underlay")
p.add_layout(zero_line)

p.line(wl_sky, flux_sky, line_color="#008000", line_width=1.5, line_join="round")
p.line(wl_spec, flux_spec, line_color="black", line_width=5, line_join="round")

open("out.html", "w").write(file_html(p, INLINE))
